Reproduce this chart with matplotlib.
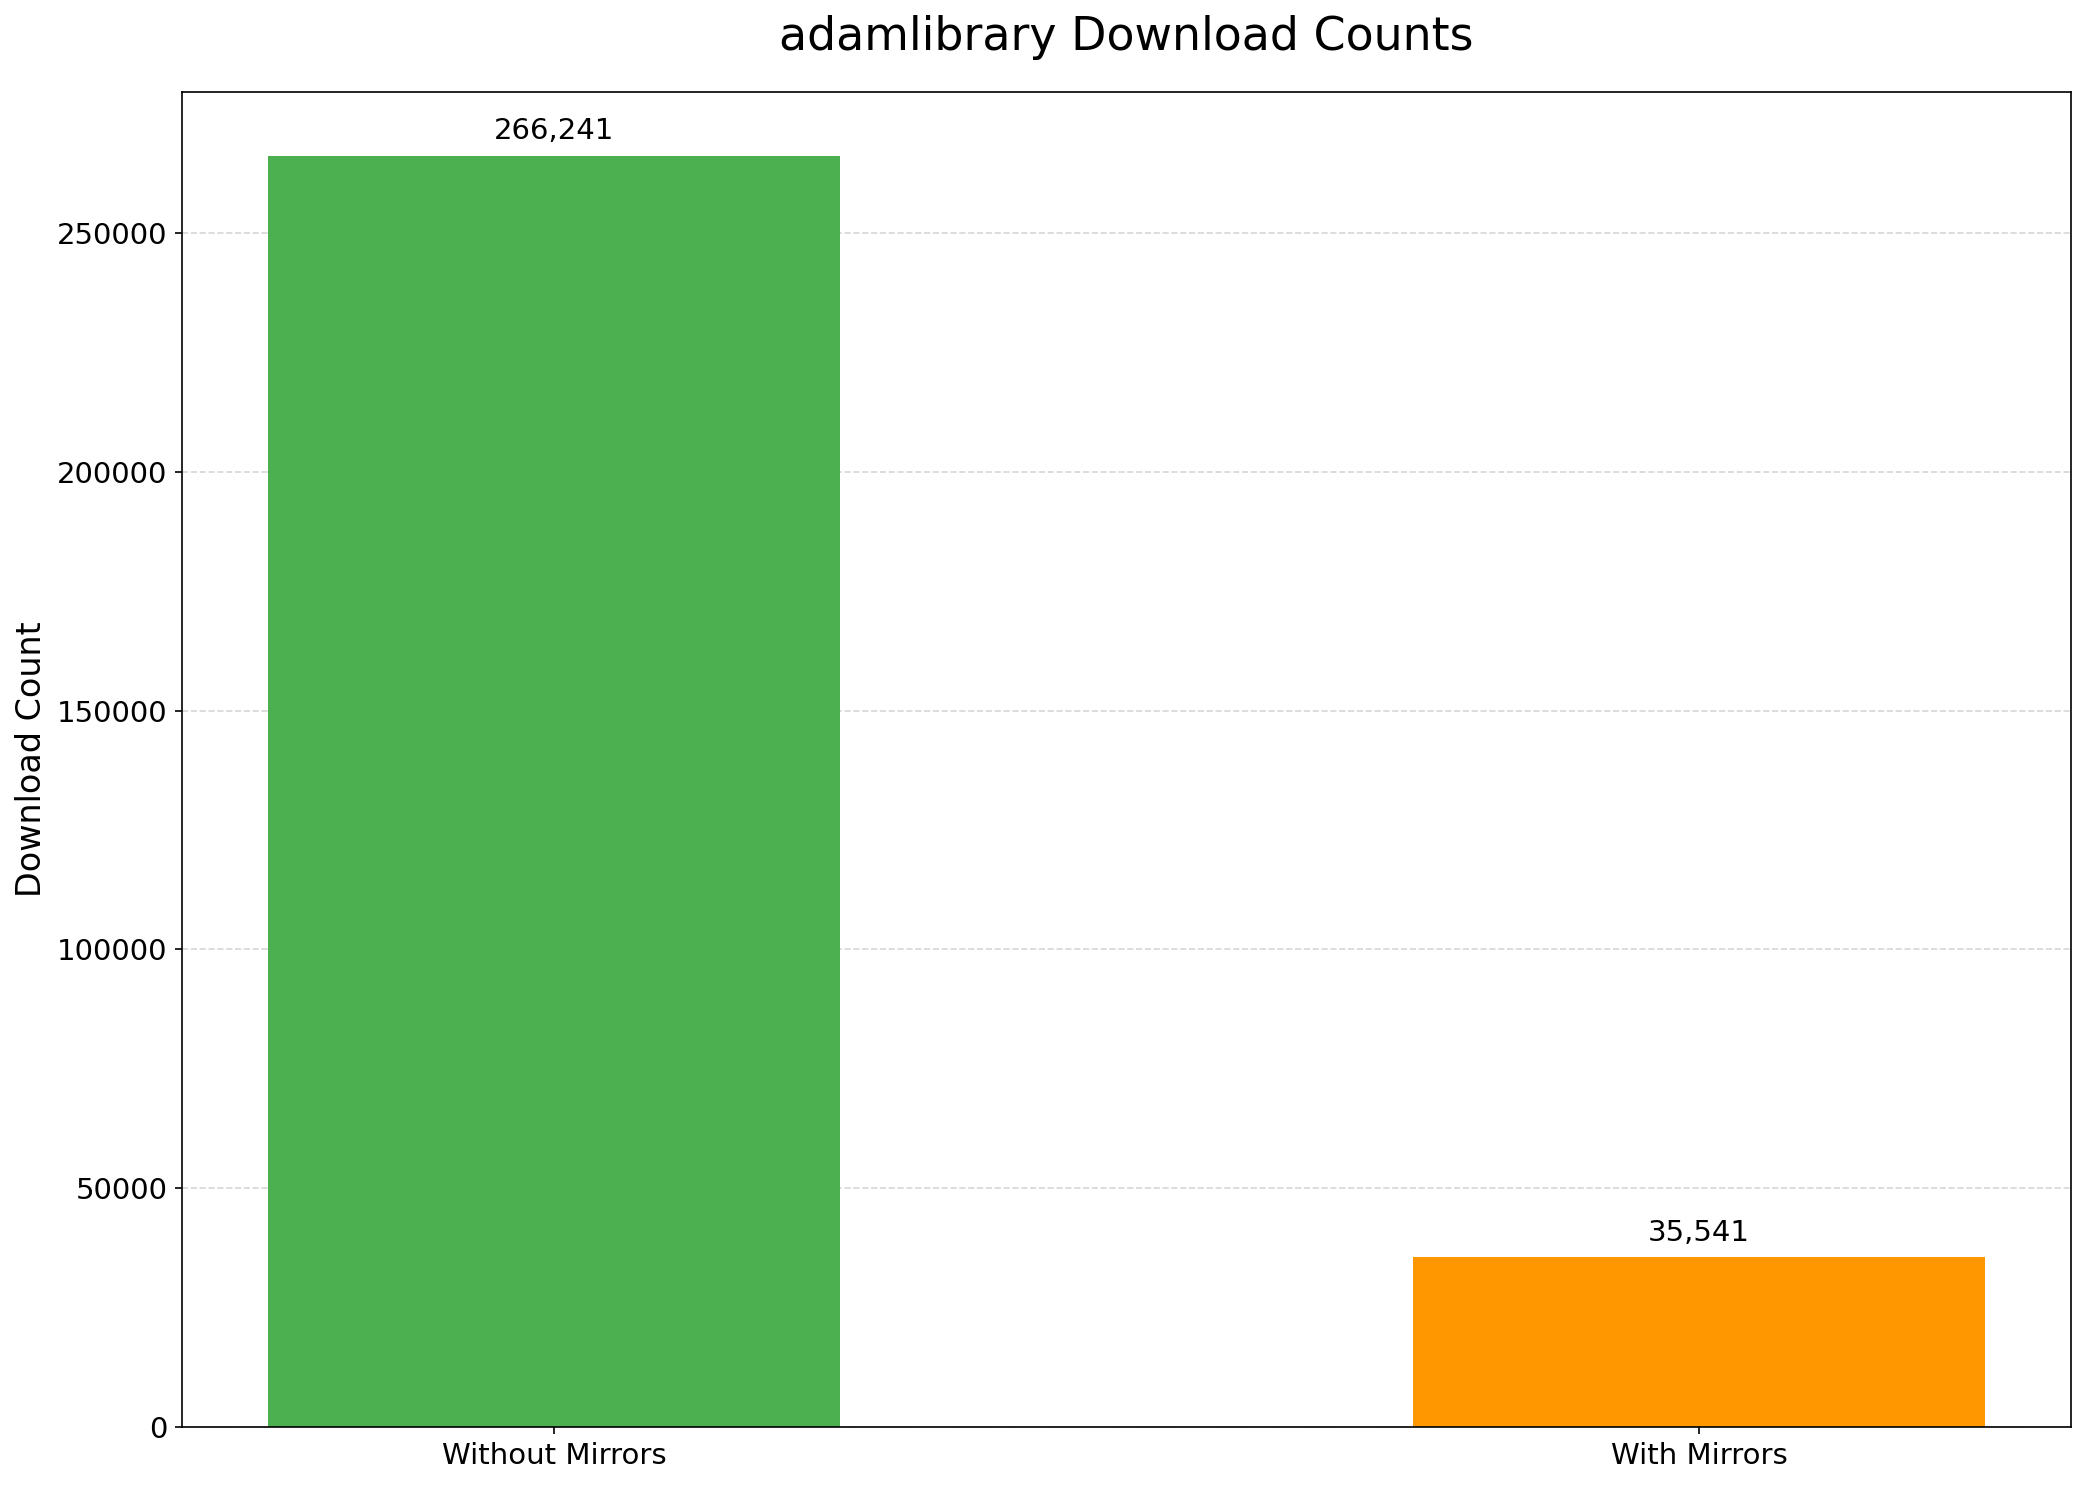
import matplotlib
matplotlib.use("Agg")
import matplotlib.pyplot as plt

categories = ["Without Mirrors", "With Mirrors"]
downloads = [266241, 35541]
bar_colors = ["#4CAF50", "#FF9800"]

fig = plt.figure(figsize=(2087 / 150, 1485 / 150), dpi=150)
ax = fig.add_axes([182 / 2087, 1 - 1427 / 1485, (2071 - 182) / 2087, (1427 - 92) / 1485])

bars = ax.bar(categories, downloads, color=bar_colors, width=0.5)
ax.set_ylim(0, max(downloads) * 1.05)

# etiquetas encima de cada barra
for rect, val in zip(bars, downloads):
    ax.annotate(f"{val:,}", (rect.get_x() + rect.get_width() / 2, rect.get_height()),
                xytext=(0, 5), textcoords="offset points",
                ha="center", va="bottom", fontsize=14)

ax.set_title("adamlibrary Download Counts", fontsize=22, pad=20)
ax.set_ylabel("Download Count", fontsize=16)
ax.tick_params(axis="both", labelsize=14)
ax.grid(axis="y", linestyle="--", alpha=0.5)
ax.set_axisbelow(True)

fig.savefig("out.png", dpi=150)
